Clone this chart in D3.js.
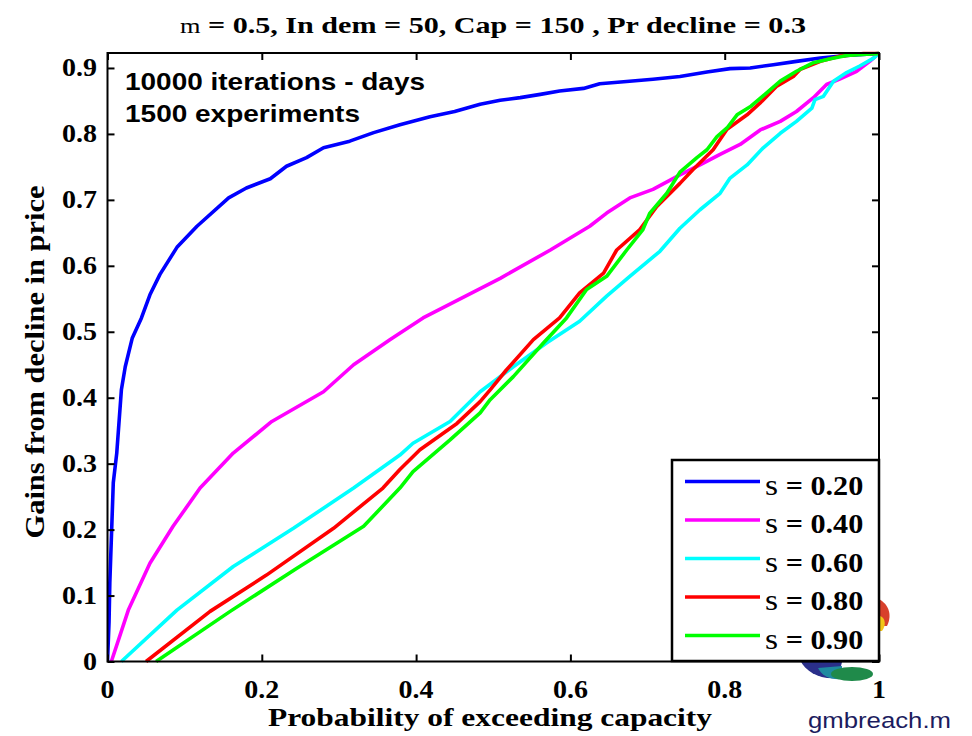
<!DOCTYPE html>
<html><head><meta charset="utf-8">
<script src="https://cdn.jsdelivr.net/npm/d3@7"></script>
<style>html,body{margin:0;padding:0;background:#fff;}svg{display:block;}</style>
</head><body><svg id="c" width="972" height="736"></svg>
<script>
// ---- data ----
const seriesLabels = ["0.20", "0.40", "0.60", "0.80", "0.90"];
const seriesColors = ["#0000ff", "#ff00ff", "#00ffff", "#ff0000", "#00ff00"];

const s20Prob = [0, 0.002, 0.003, 0.0054, 0.0075, 0.012, 0.018, 0.023, 0.032, 0.044, 0.055, 0.068, 0.09, 0.116, 0.157, 0.18, 0.211, 0.232, 0.258, 0.28, 0.314, 0.345, 0.379, 0.418, 0.45, 0.483, 0.509, 0.535, 0.561, 0.586, 0.617, 0.638, 0.669, 0.707, 0.742, 0.777, 0.807, 0.833, 0.863, 0.893, 0.924, 0.958, 1];
const s20Gain = [0, 0.06, 0.119, 0.2, 0.271, 0.316, 0.412, 0.447, 0.49, 0.521, 0.556, 0.587, 0.628, 0.66, 0.703, 0.718, 0.732, 0.751, 0.764, 0.779, 0.789, 0.802, 0.814, 0.826, 0.834, 0.845, 0.851, 0.855, 0.86, 0.865, 0.869, 0.876, 0.879, 0.883, 0.887, 0.894, 0.899, 0.9, 0.905, 0.91, 0.915, 0.919, 0.922];

const s40Prob = [0.005, 0.027, 0.055, 0.085, 0.12, 0.163, 0.213, 0.28, 0.319, 0.366, 0.409, 0.509, 0.574, 0.625, 0.647, 0.677, 0.707, 0.742, 0.768, 0.794, 0.82, 0.846, 0.872, 0.893, 0.915, 0.932, 0.949, 0.971, 0.988, 1];
const s40Gain = [0, 0.078, 0.149, 0.205, 0.263, 0.316, 0.364, 0.409, 0.45, 0.488, 0.521, 0.581, 0.624, 0.66, 0.68, 0.703, 0.716, 0.738, 0.753, 0.769, 0.784, 0.806, 0.819, 0.834, 0.855, 0.875, 0.883, 0.895, 0.91, 0.922];

const s60Prob = [0.018, 0.09, 0.163, 0.241, 0.319, 0.379, 0.396, 0.444, 0.483, 0.526, 0.569, 0.612, 0.647, 0.677, 0.716, 0.742, 0.768, 0.794, 0.807, 0.829, 0.85, 0.872, 0.893, 0.913, 0.917, 0.928, 0.941, 0.958, 0.975, 0.993, 1];
const s60Gain = [0, 0.078, 0.144, 0.202, 0.263, 0.313, 0.331, 0.364, 0.409, 0.447, 0.483, 0.516, 0.554, 0.584, 0.622, 0.657, 0.685, 0.71, 0.733, 0.753, 0.779, 0.801, 0.819, 0.839, 0.852, 0.857, 0.88, 0.893, 0.903, 0.915, 0.922];

const s80Prob = [0.05, 0.133, 0.206, 0.293, 0.357, 0.379, 0.405, 0.453, 0.483, 0.496, 0.517, 0.552, 0.586, 0.612, 0.643, 0.66, 0.69, 0.712, 0.742, 0.759, 0.785, 0.803, 0.829, 0.846, 0.867, 0.889, 0.898, 0.924, 0.95, 0.98, 1];
const s80Gain = [0, 0.076, 0.131, 0.202, 0.263, 0.291, 0.321, 0.361, 0.394, 0.412, 0.442, 0.488, 0.521, 0.559, 0.589, 0.624, 0.655, 0.69, 0.725, 0.746, 0.776, 0.807, 0.829, 0.847, 0.872, 0.887, 0.898, 0.91, 0.918, 0.922, 0.922];

const s90Prob = [0.063, 0.159, 0.245, 0.332, 0.379, 0.396, 0.444, 0.483, 0.496, 0.526, 0.565, 0.595, 0.621, 0.647, 0.673, 0.694, 0.703, 0.725, 0.742, 0.764, 0.777, 0.79, 0.803, 0.816, 0.834, 0.854, 0.872, 0.893, 0.915, 0.937, 0.958, 1];
const s90Gain = [0, 0.076, 0.141, 0.205, 0.263, 0.288, 0.336, 0.377, 0.397, 0.432, 0.483, 0.521, 0.564, 0.584, 0.624, 0.655, 0.68, 0.71, 0.742, 0.764, 0.776, 0.796, 0.809, 0.829, 0.842, 0.862, 0.88, 0.895, 0.908, 0.914, 0.919, 0.922];

const xTicks = [0, 0.2, 0.4, 0.6, 0.8, 1];
const xTickLabels = ["0", "0.2", "0.4", "0.6", "0.8", "1"];
const yTicks = [0, 0.1, 0.2, 0.3, 0.4, 0.5, 0.6, 0.7, 0.8, 0.9];
const yTickLabels = ["0", "0.1", "0.2", "0.3", "0.4", "0.5", "0.6", "0.7", "0.8", "0.9"];
const yMax = 0.9227;

const titleSym = "m";
const titleRest = " = 0.5, In dem = 50, Cap = 150 , Pr decline = 0.3";
const xLabel = "Probability of exceeding capacity";
const yLabel = "Gains from decline in price";
const noteLines = ["10000 iterations - days", "1500 experiments"];
const footer = "gmbreach.m";

const allProb = [s20Prob, s40Prob, s60Prob, s80Prob, s90Prob];
const allGain = [s20Gain, s40Gain, s60Gain, s80Gain, s90Gain];
const series = seriesLabels.map((lab, i) => ({
  label: lab, color: seriesColors[i],
  pts: allProb[i].map((p, j) => [p, allGain[i][j]])
}));

// ---- layout ----
const L = 107.5, R = 879, T = 53, B = 661.5;
const SERIF = "'Liberation Serif','Times New Roman',serif";
const SANS = "'Liberation Sans',Arial,sans-serif";
const svg = d3.select("#c");
const x = d3.scaleLinear().domain([0, 1]).range([L, R]);
const y = d3.scaleLinear().domain([0, yMax]).range([B, T]);

function stext(g, str, tx, ty, opts) {
  return g.append("text")
    .attr("transform", `translate(${tx},${ty}) scale(${opts.sx || 1},1)`)
    .attr("font-family", opts.family || SERIF)
    .attr("font-size", opts.size)
    .attr("font-weight", opts.weight || "bold")
    .attr("text-anchor", opts.anchor || "start")
    .attr("fill", opts.fill || "#000")
    .text(str);
}

// logo (decoration, partly hidden behind legend)
const logo = svg.append("g");
logo.append("path").attr("d", "M876,598 C888,602 893,614 887,626 L880,626 Z").attr("fill", "#d8402c");
logo.append("path").attr("d", "M880,616 C886,618 886,626 882,631 L879,631 Z").attr("fill", "#f2c618");
logo.append("path").attr("d", "M800,660 C806,672 820,680 838,678 L842,662 Z").attr("fill", "#2a2f8a");
logo.append("path").attr("d", "M818,668 C822,676 830,680 842,679 L842,666 Z").attr("fill", "#1e8aa0");
logo.append("ellipse").attr("cx", 852).attr("cy", 674).attr("rx", 21).attr("ry", 7).attr("fill", "#1f8a4a");

// lines
const line = d3.line().x(d => x(d[0])).y(d => y(d[1]));
svg.append("clipPath").attr("id", "pc").append("rect")
  .attr("x", L).attr("y", T - 2).attr("width", R - L + 2).attr("height", B - T + 4);
svg.append("g").attr("clip-path", "url(#pc)")
  .selectAll("path").data(series).join("path")
  .attr("d", d => line(d.pts))
  .attr("fill", "none").attr("stroke", d => d.color)
  .attr("stroke-width", 3.6).attr("stroke-linejoin", "round");

// frame and axes (inward ticks on all sides)
const ax = svg.append("g");
ax.append("g").attr("transform", `translate(0,${B})`)
  .call(d3.axisBottom(x).tickValues(xTicks).tickSize(-7).tickFormat(""))
  .call(g => g.select(".domain").remove());
ax.append("g").attr("transform", `translate(0,${T})`)
  .call(d3.axisTop(x).tickValues(xTicks).tickSize(-7).tickFormat(""))
  .call(g => g.select(".domain").remove());
ax.append("g").attr("transform", `translate(${L},0)`)
  .call(d3.axisLeft(y).tickValues(yTicks).tickSize(-7).tickFormat(""))
  .call(g => g.select(".domain").remove());
ax.append("g").attr("transform", `translate(${R},0)`)
  .call(d3.axisRight(y).tickValues(yTicks).tickSize(-7).tickFormat(""))
  .call(g => g.select(".domain").remove());
ax.selectAll(".tick line").attr("stroke", "#000").attr("stroke-width", 2);
ax.append("rect").attr("x", L).attr("y", T).attr("width", R - L).attr("height", B - T)
  .attr("fill", "none").attr("stroke", "#000").attr("stroke-width", 2);

// tick labels
const tl = svg.append("g");
xTicks.forEach((v, i) => stext(tl, xTickLabels[i], x(v), 698, {size: 25, anchor: "middle", sx: 1.12}));
yTicks.forEach((v, i) => stext(tl, yTickLabels[i], 97, y(v) + 8.5, {size: 25, anchor: "end", sx: 1.12}));

// title
const tt = svg.append("text").attr("x", 493).attr("y", 33)
  .attr("font-family", SERIF).attr("font-size", 24).attr("font-weight", "bold")
  .attr("text-anchor", "middle").attr("textLength", 626).attr("lengthAdjust", "spacingAndGlyphs");
tt.append("tspan").attr("font-weight", "normal").attr("font-size", 21).text(titleSym);
tt.append("tspan").text(titleRest);

svg.append("text").attr("x", 490).attr("y", 726)
  .attr("font-family", SERIF).attr("font-size", 25).attr("font-weight", "bold")
  .attr("text-anchor", "middle").attr("textLength", 444).attr("lengthAdjust", "spacingAndGlyphs")
  .text(xLabel);
svg.append("text").attr("transform", "translate(44,362) rotate(-90)")
  .attr("font-family", SERIF).attr("font-size", 27).attr("font-weight", "bold")
  .attr("text-anchor", "middle").attr("textLength", 353).attr("lengthAdjust", "spacingAndGlyphs")
  .text(yLabel);

// annotation
const noteW = [300, 235];
noteLines.forEach((s, i) => svg.append("text").attr("x", 125).attr("y", 90 + i * 32)
  .attr("font-family", SANS).attr("font-size", 24).attr("font-weight", "bold")
  .attr("textLength", noteW[i]).attr("lengthAdjust", "spacingAndGlyphs").text(s));

// footer
svg.append("text").attr("x", 808).attr("y", 728)
  .attr("font-family", SANS).attr("font-size", 22).attr("fill", "#1c1c5e")
  .attr("textLength", 143).attr("lengthAdjust", "spacingAndGlyphs").text(footer);

// legend
const lg = svg.append("g");
lg.append("rect").attr("x", 672).attr("y", 460).attr("width", 207).attr("height", 201)
  .attr("fill", "#fff").attr("stroke", "#000").attr("stroke-width", 2.5);
series.forEach((s, i) => {
  const ly = 481.5 + i * 38.5;
  lg.append("line").attr("x1", 685).attr("x2", 760).attr("y1", ly).attr("y2", ly)
    .attr("stroke", s.color).attr("stroke-width", 3.6);
  const t = lg.append("text").attr("transform", `translate(765,${ly + 13}) scale(1.12,1)`)
    .attr("font-family", SERIF).attr("font-size", 27).attr("font-weight", "bold");
  t.append("tspan").attr("font-weight", "normal").attr("font-size", 30).text("s");
  t.append("tspan").text(" = " + s.label);
});
</script></body></html>
